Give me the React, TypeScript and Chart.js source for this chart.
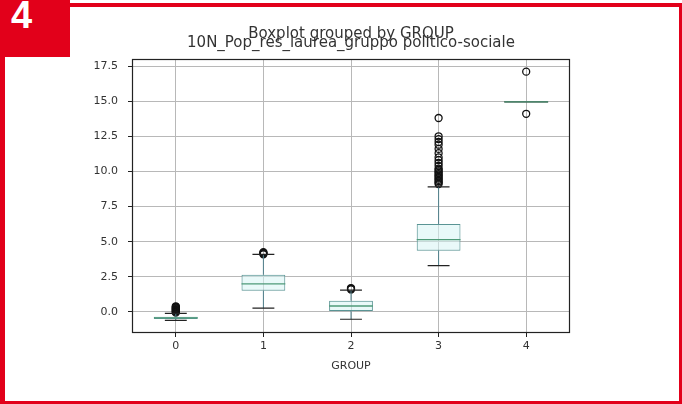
import React, { useEffect, useRef } from "react";
import { Chart, registerables } from "chart.js";

Chart.register(...registerables);

const groups = ["0", "1", "2", "3", "4"];
const q1 = [-0.5, 1.5, 0.07, 4.36, 14.95];
const q3 = [-0.35, 2.65, 0.8, 6.26, 14.95];
const medians = [-0.42, 2.0, 0.42, 5.14, 14.95];
const whiskerLow = [-0.6, 0.27, -0.52, 3.29, 14.95];
const whiskerHigh = [-0.1, 4.1, 1.55, 8.9, 14.95];
const outliers0 = [-0.05, 0.0, 0.05, 0.1, 0.15, 0.2, 0.25, 0.3, 0.35, 0.4];
const outliers1 = [4.1, 4.15, 4.2, 4.25];
const outliers2 = [1.6, 1.65, 1.7];
const outliers3 = [9.1, 9.2, 9.3, 9.4, 9.5, 9.6, 9.7, 9.8, 9.9, 10.0, 10.1, 10.2, 10.4, 10.6, 10.8, 11.0, 11.3, 11.6, 11.9, 12.1, 12.3, 12.5, 13.8];
const outliers4 = [14.1, 17.1];
const yTicks = [0, 2.5, 5, 7.5, 10, 12.5, 15, 17.5];

const titleLine1 = "Boxplot grouped by GROUP";
const titleLine2 = "10N_Pop_res_laurea_gruppo politico-sociale";
const xTitle = "GROUP";

const FONT = '"DejaVu Sans", sans-serif';

export default function App() {
  const ref = useRef<HTMLCanvasElement | null>(null);

  useEffect(() => {
    if (!ref.current) return;
    const outlierLists = [outliers0, outliers1, outliers2, outliers3, outliers4];
    const outlierPoints: { x: string; y: number }[] = [];
    outlierLists.forEach((list, i) => list.forEach((v) => outlierPoints.push({ x: groups[i], y: v })));

    const boxPlugin = {
      id: "boxParts",
      afterDatasetsDraw(chart: any) {
        const { ctx, scales } = chart;
        const xs = scales.x;
        const ys = scales.y;
        const step = xs.getPixelForValue(1) - xs.getPixelForValue(0);
        ctx.save();
        groups.forEach((_, i) => {
          const cx = xs.getPixelForValue(i);
          const capHalf = step * 0.125;
          const boxHalf = step * 0.25;
          ctx.strokeStyle = "#50808c";
          ctx.lineWidth = 1;
          ctx.beginPath();
          ctx.moveTo(cx, ys.getPixelForValue(q3[i]));
          ctx.lineTo(cx, ys.getPixelForValue(whiskerHigh[i]));
          ctx.moveTo(cx, ys.getPixelForValue(q1[i]));
          ctx.lineTo(cx, ys.getPixelForValue(whiskerLow[i]));
          ctx.stroke();
          ctx.strokeStyle = "#222";
          ctx.lineWidth = 1.2;
          const hw = q1[i] === q3[i] && whiskerLow[i] === whiskerHigh[i] ? boxHalf : capHalf;
          ctx.beginPath();
          ctx.moveTo(cx - hw, ys.getPixelForValue(whiskerHigh[i]));
          ctx.lineTo(cx + hw, ys.getPixelForValue(whiskerHigh[i]));
          ctx.moveTo(cx - hw, ys.getPixelForValue(whiskerLow[i]));
          ctx.lineTo(cx + hw, ys.getPixelForValue(whiskerLow[i]));
          ctx.stroke();
          ctx.strokeStyle = "#4f9a78";
          ctx.lineWidth = 1.3;
          ctx.beginPath();
          ctx.moveTo(cx - boxHalf, ys.getPixelForValue(medians[i]));
          ctx.lineTo(cx + boxHalf, ys.getPixelForValue(medians[i]));
          ctx.stroke();
        });
        ctx.restore();
      },
      afterDraw(chart: any) {
        const { ctx, chartArea } = chart;
        ctx.save();
        ctx.strokeStyle = "#222";
        ctx.lineWidth = 1.2;
        ctx.strokeRect(chartArea.left + 0.5, chartArea.top + 0.5, chartArea.right - chartArea.left - 1, chartArea.bottom - chartArea.top - 1);
        ctx.fillStyle = "#333";
        ctx.font = "15px " + FONT;
        ctx.textAlign = "center";
        ctx.textBaseline = "middle";
        const cx = (chartArea.left + chartArea.right) / 2;
        ctx.fillText(titleLine1, cx, chartArea.top - 25);
        ctx.fillText(titleLine2, cx, chartArea.top - 16);
        ctx.restore();
      },
    };

    const chart = new Chart(ref.current, {
      type: "bar",
      data: {
        labels: groups,
        datasets: [
          {
            type: "bar",
            data: groups.map((_, i) => [q1[i], q3[i]]) as any,
            backgroundColor: "rgba(215,244,244,0.55)",
            borderColor: "#5a9494",
            borderWidth: 1,
            borderSkipped: false,
            barPercentage: 0.5,
            categoryPercentage: 1,
          } as any,
          {
            type: "line",
            data: outlierPoints as any,
            showLine: false,
            pointStyle: "circle",
            pointRadius: 3.5,
            pointBorderWidth: 1.3,
            pointBorderColor: "#111",
            pointBackgroundColor: "rgba(0,0,0,0)",
          } as any,
        ],
      },
      options: {
        responsive: false,
        animation: false,
        layout: { padding: { left: 92, top: 59, right: 112, bottom: 31 } },
        plugins: { legend: { display: false }, tooltip: { enabled: false }, title: { display: false } },
        scales: {
          x: {
            type: "category",
            offset: true,
            grid: { offset: false, color: "#b8b8b8", lineWidth: 1, tickColor: "#222", tickLength: 4, drawOnChartArea: true },
            border: { display: false },
            ticks: { color: "#333", font: { family: FONT, size: 11 }, padding: 3, maxRotation: 0 },
            title: { display: true, text: xTitle, color: "#333", font: { family: FONT, size: 11 }, padding: { top: 4, bottom: 0 } },
            afterFit: (s: any) => { s.height = 40; },
          },
          y: {
            type: "linear",
            min: -1.5,
            max: 18.0,
            afterBuildTicks: (s: any) => { s.ticks = yTicks.map((v) => ({ value: v })); },
            grid: { color: "#b8b8b8", lineWidth: 1, tickColor: "#222", tickLength: 4 },
            border: { display: false },
            ticks: { color: "#333", font: { family: FONT, size: 11 }, padding: 10, callback: (v: any) => Number(v).toFixed(1) },
            afterFit: (s: any) => { s.width = 40; },
          },
        },
      },
      plugins: [boxPlugin],
    });
    return () => chart.destroy();
  }, []);

  const red = "#e2001a";
  return (
    <div style={{ position: "fixed", left: 0, top: 0, width: 682, height: 404, background: "#fff", overflow: "hidden" }}>
      <canvas ref={ref} width={682} height={404} style={{ display: "block" }} />
      <div style={{ position: "absolute", left: 0, top: 3, width: 682, height: 4, background: red }} />
      <div style={{ position: "absolute", left: 0, top: 0, width: 5, height: 404, background: red }} />
      <div style={{ position: "absolute", left: 679, top: 3, width: 3, height: 401, background: red }} />
      <div style={{ position: "absolute", left: 0, top: 401, width: 682, height: 3, background: red }} />
      <div style={{ position: "absolute", left: 0, top: 0, width: 70, height: 57, background: red, color: "#fff", fontFamily: '"Liberation Sans", Arial, sans-serif', fontWeight: "bold", fontSize: 38, lineHeight: "30px", paddingLeft: 11, boxSizing: "border-box" }}>4</div>
    </div>
  );
}
